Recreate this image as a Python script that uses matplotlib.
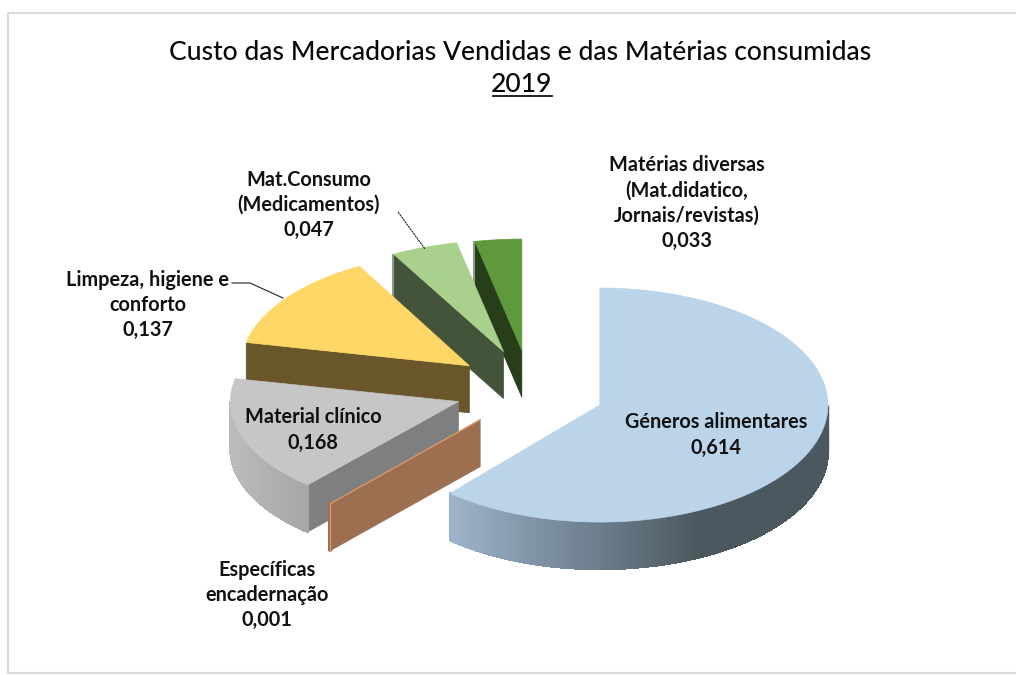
# Custo das Mercadorias Vendidas e das Matérias consumidas 2019
# Pizza 3D "explodida" desenhada à mão, pois o matplotlib não tem esse tipo de gráfico

import numpy as np
import matplotlib
matplotlib.use('Agg')
import matplotlib.pyplot as plt
from matplotlib.collections import PolyCollection
from matplotlib.colors import to_rgb
from matplotlib.patches import Polygon, Rectangle

plt.rcParams['font.family'] = ['Lato', 'DejaVu Sans']

# Dados
categorias = ['Géneros alimentares', 'Específicas encadernação', 'Material clínico',
              'Limpeza, higiene e conforto', 'Mat.Consumo (Medicamentos)', 'Matérias diversas']
valores = [0.614, 0.001, 0.168, 0.137, 0.047, 0.033]
rotulos = ['Géneros alimentares\n0,614', 'Específicas\nencadernação\n0,001',
           'Material clínico\n0,168', 'Limpeza, higiene e\nconforto\n0,137',
           'Mat.Consumo\n(Medicamentos)\n0,047',
           'Matérias diversas\n(Mat.didatico,\nJornais/revistas)\n0,033']

# Cores: topo, corte, lateral clara, lateral escura
cor_topo = ['#BAD4E9', '#9B6F50', '#C6C6C6', '#FFD766', '#A9D18E', '#5F993D']
cor_corte = ['#4B5860', '#9B6F50', '#7F7F7F', '#69562B', '#44543A', '#283E1A']
cor_lat1 = ['#9DB4CC', '#9B6F50', '#BBBBBB', '#69562B', '#44543A', '#283E1A']
cor_lat2 = ['#4B5860', '#9B6F50', '#A6A6A6', '#69562B', '#44543A', '#283E1A']

# Geometria em pixels
cx, cy = 529.6, 390.5
rx, ry = 228, 117
altura = 47
expl_x, expl_y = 75, 41.5
# achatamento por fatia, imita a perspectiva do Excel
escala_ry = [1.0, 0.95, 0.95, 0.97, 0.95, 0.95]
ajuste_y = [0, -2, -2, 0, 0, 1]
pos_rotulos = [(716, 435), (267, 595), (313, 430), (148, 305), (309, 205), (687, 203)]
ordem = [5, 4, 3, 2, 1, 0]

fig = plt.figure(figsize=(10.16, 6.75), dpi=100)
ax = fig.add_axes([0, 0, 1, 1])
ax.set_xlim(0, 1016)
ax.set_ylim(675, 0)
ax.axis('off')

# Moldura
ax.add_patch(Rectangle((8, 13), 1020, 660, fill=False, edgecolor='#D9D9D9', lw=1.5, zorder=1))

fracoes = np.array(valores) / sum(valores)
inicio = np.concatenate(([0], np.cumsum(fracoes)[:-1])) * 2 * np.pi
fim = np.cumsum(fracoes) * 2 * np.pi


def ponto(x0, y0, ang, esc):
    # angulo medido do topo, no sentido horário
    return x0 + rx * np.sin(ang), y0 - ry * esc * np.cos(ang)


z = 2
for i in ordem:
    meio = (inicio[i] + fim[i]) / 2
    x0 = cx + expl_x * np.sin(meio)
    y0 = cy - expl_y * np.cos(meio) + ajuste_y[i]
    angs = np.linspace(inicio[i], fim[i], 200)
    xs, ys = ponto(x0, y0, angs, escala_ry[i])

    # face de corte visivel (só nas fatias da esquerda)
    if i != 0:
        xa, ya = ponto(x0, y0, inicio[i], escala_ry[i])
        ax.add_patch(Polygon([(x0, y0), (xa, ya), (xa, ya + altura), (x0, y0 + altura)],
                             closed=True, facecolor=cor_corte[i], edgecolor=cor_corte[i],
                             lw=0.5, zorder=z))
        # filete claro na borda externa das fatias verdes
        if i in (4, 5):
            ax.plot([xa - 1, xa - 1], [ya, ya + altura], color='#8E9A88', lw=1.5,
                    solid_capstyle='butt', zorder=z)

    # lateral externa com degradê (só a metade da frente aparece)
    vis = (angs >= np.pi / 2) & (angs <= 3 * np.pi / 2)
    if vis.sum() > 1:
        xv, yv = xs[vis], ys[vis]
        quads, cores = [], []
        c1, c2 = np.array(to_rgb(cor_lat1[i])), np.array(to_rgb(cor_lat2[i]))
        xmin, xmax = xv.min(), xv.max()
        if i == 0:
            xmax = 700
        for k in range(len(xv) - 1):
            quads.append([(xv[k], yv[k]), (xv[k + 1], yv[k + 1]),
                          (xv[k + 1], yv[k + 1] + altura), (xv[k], yv[k] + altura)])
            t = np.clip((xv[k] - xmin) / (xmax - xmin), 0, 1)
            cores.append(c1 + (c2 - c1) * t)
        ax.add_collection(PolyCollection(quads, facecolors=cores, edgecolors=cores,
                                         linewidths=1.0, antialiaseds=False, zorder=z))

    # topo da fatia
    if i == 1:
        xa, ya = ponto(x0, y0, inicio[i], escala_ry[i])
        ax.plot([x0, xa], [y0, ya], color='#D59A6A', lw=1, zorder=z + 0.5)
        ax.plot([xa, xa], [ya, ya + altura], color='#D59A6A', lw=1, zorder=z + 0.5)
    else:
        topo = [(x0, y0)] + list(zip(xs, ys))
        ax.add_patch(Polygon(topo, closed=True, facecolor=cor_topo[i], edgecolor=cor_topo[i],
                             lw=0.5, zorder=z + 0.5))
    z += 1

# Filete claro à direita da fatia maior
x_azul = cx + expl_x * np.sin((inicio[0] + fim[0]) / 2) + rx
ax.plot([x_azul + 1, x_azul + 1], [405, 452], color='#DDE1E4', lw=1.5, zorder=1.5)

# Rótulos
for txt, (xt, yt) in zip(rotulos, pos_rotulos):
    ax.text(xt, yt, txt, ha='center', va='center', fontsize=14.3, fontweight='bold',
            color='#111111', linespacing=1.32, zorder=20)

# Linhas de chamada
ax.plot([232, 250, 283], [283, 283, 298], color='#222222', lw=0.8, zorder=20)
ax.plot([398, 425], [212, 249], color='#222222', lw=0.8, ls=(0, (2, 0.6)), zorder=20)

# Título
ax.text(520, 52, 'Custo das Mercadorias Vendidas e das Matérias consumidas', ha='center',
        va='center', fontsize=19.1, fontweight='medium', color='#0A0A0A', zorder=20)
ax.text(522, 84, '2019', ha='center', va='center', fontsize=19.1, fontweight='medium',
        color='#0A0A0A', zorder=20)
ax.plot([493, 552], [96, 96], color='#111111', lw=1.3, zorder=20)

plt.savefig('out.png', dpi=100)
